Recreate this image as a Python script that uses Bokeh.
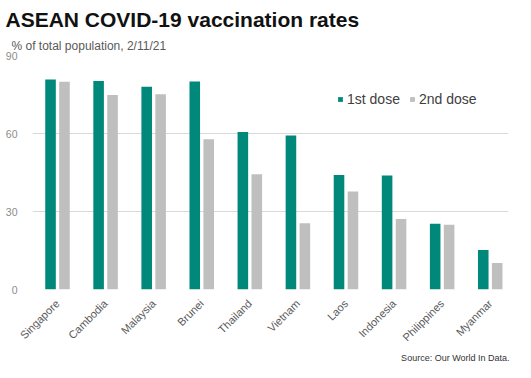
import math
from bokeh.plotting import figure
from bokeh.models import (Range1d, FixedTicker, Title, Legend, LegendItem,
                          ColumnDataSource)
from bokeh.transform import dodge
from bokeh.embed import file_html
from bokeh.resources import INLINE

countries = ["Singapore", "Cambodia", "Malaysia", "Brunei", "Thailand",
             "Vietnam", "Laos", "Indonesia", "Philippines", "Myanmar"]
dose1 = [80.8, 80.2, 78.0, 80.0, 60.6, 59.2, 44.0, 43.8, 25.3, 15.2]
dose2 = [79.9, 74.8, 75.1, 57.8, 44.3, 25.5, 37.7, 27.1, 24.9, 10.2]
y_ticks = [0, 30, 60, 90]

TEAL = "#00897B"
GREY = "#BFBFBF"
FONT = "Liberation Sans"

idx = list(range(len(countries)))
src = ColumnDataSource(dict(idx=idx, country=countries, dose1=dose1, dose2=dose2))

p = figure(width=515, height=362, x_range=Range1d(-0.52, 9.38),
           y_range=Range1d(0, 90), output_backend="svg",
           toolbar_location=None, min_border_left=32, min_border_right=7,
           min_border_top=55, min_border_bottom=71)
p.outline_line_color = None
p.border_fill_color = "white"
p.background_fill_color = "white"

r1 = p.vbar(x=dodge("idx", -0.145, range=p.x_range), top="dose1", width=0.22,
            source=src, fill_color=TEAL, line_color=None)
r2 = p.vbar(x=dodge("idx", 0.145, range=p.x_range), top="dose2", width=0.22,
            source=src, fill_color=GREY, line_color=None)

# main title (outermost) and subtitle (closest to the frame)
p.title.text = "ASEAN COVID-19 vaccination rates"
p.title.text_font = FONT
p.title.text_font_size = "21px"
p.title.text_font_style = "bold"
p.title.text_color = "#111111"
p.title.offset = -27
p.title.standoff = 5
sub = Title(text="% of total population, 2/11/21", text_font=FONT,
            text_font_size="12px", text_font_style="normal",
            text_color="#595959", offset=-21, standoff=6)
p.add_layout(sub, "above")
src_t = Title(text="Source: Our World In Data.", text_font=FONT,
              text_font_size="9px", text_font_style="normal",
              text_color="#333333", align="right", offset=-1, standoff=0)
p.add_layout(src_t, "below")

# axes
p.yaxis.ticker = FixedTicker(ticks=y_ticks)
p.yaxis.axis_line_color = None
p.yaxis.major_tick_line_color = None
p.yaxis.minor_tick_line_color = None
p.yaxis.major_label_text_font = FONT
p.yaxis.major_label_text_font_size = "10.5px"
p.yaxis.major_label_text_color = "#8C8C8C"
p.yaxis.major_label_standoff = 9

p.xaxis.ticker = FixedTicker(ticks=idx)
p.xaxis.major_label_overrides = {i: c for i, c in zip(idx, countries)}
p.xaxis.major_label_orientation = math.pi / 4
p.xaxis.axis_line_color = None
p.xaxis.major_tick_line_color = None
p.xaxis.minor_tick_line_color = None
p.xaxis.major_tick_out = 0
p.xaxis.major_tick_in = 0
p.xaxis.major_label_text_font = FONT
p.xaxis.major_label_text_font_size = "11px"
p.xaxis.major_label_text_color = "#595959"
p.xaxis.major_label_standoff = 12

p.xgrid.grid_line_color = None
p.ygrid.ticker = FixedTicker(ticks=y_ticks)
p.ygrid.grid_line_color = "#D9D9D9"
p.ygrid.grid_line_width = 1

legend = Legend(items=[LegendItem(label="1st dose", renderers=[r1]),
                       LegendItem(label="2nd dose", renderers=[r2])],
                location=(305, 182), orientation="horizontal",
                glyph_width=6, glyph_height=6, label_standoff=4, spacing=9,
                padding=0, margin=0, label_height=14,
                label_text_font=FONT, label_text_font_size="14px",
                label_text_color="#404040",
                border_line_alpha=0, background_fill_alpha=0)
p.add_layout(legend)

open("out.html", "w").write(file_html(p, INLINE))
